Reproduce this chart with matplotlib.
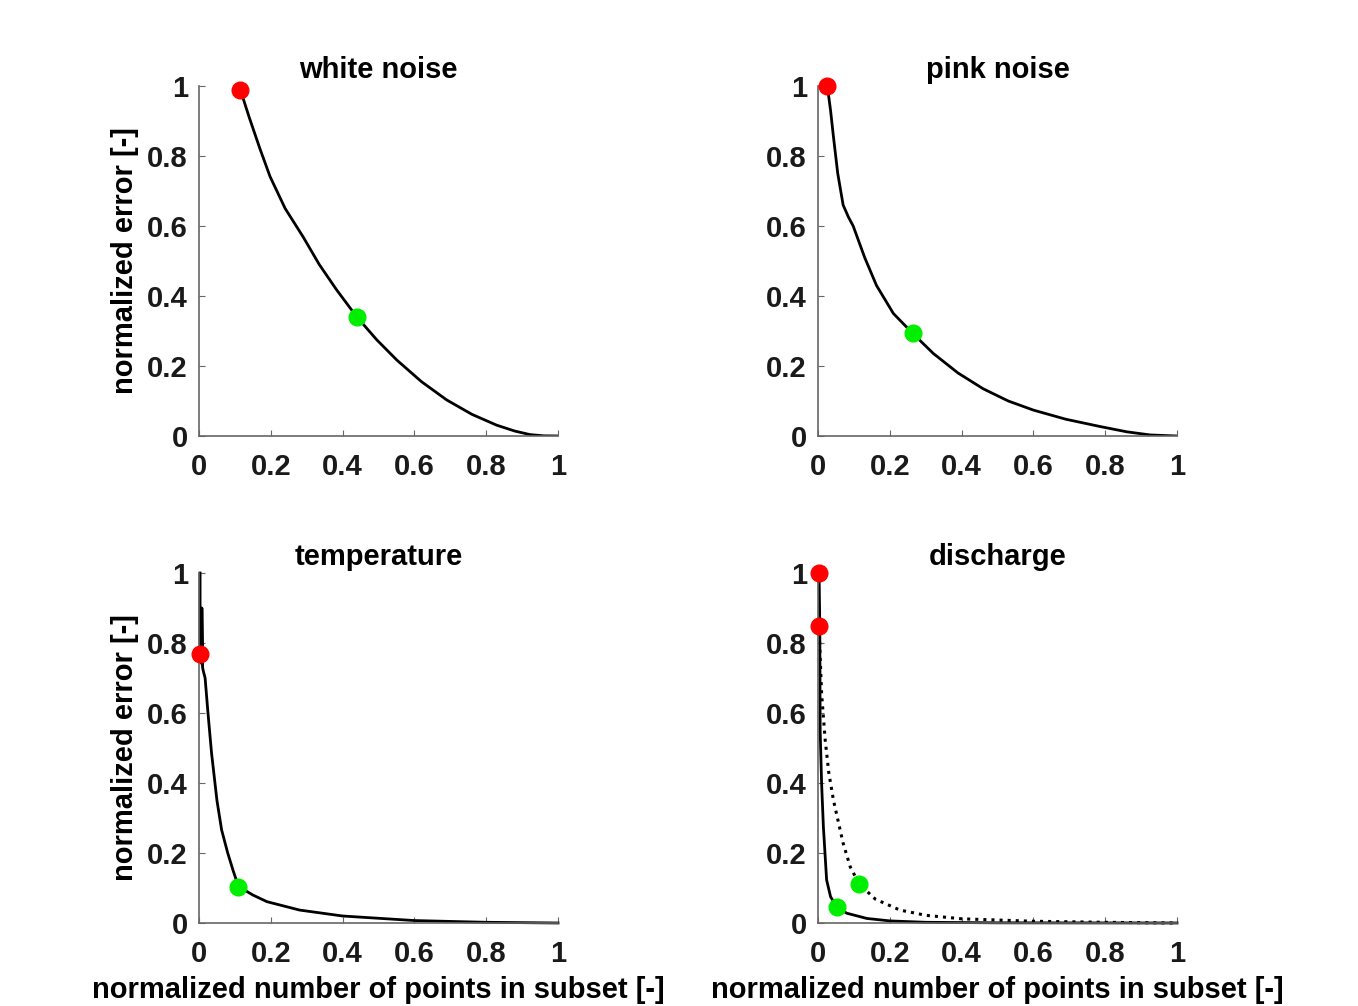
import numpy as np
import matplotlib.pyplot as plt

plt.rcParams['font.family'] = ['Liberation Sans', 'DejaVu Sans']
plt.rcParams['font.weight'] = 'bold'

# white noise
wn_x = [0.115, 0.14, 0.17, 0.198, 0.24, 0.29, 0.335, 0.383, 0.439, 0.495, 0.551, 0.62, 0.69, 0.76, 0.829, 0.88, 0.922, 0.96, 1.0]
wn_y = [0.99, 0.91, 0.82, 0.741, 0.65, 0.569, 0.49, 0.418, 0.341, 0.275, 0.217, 0.155, 0.103, 0.062, 0.031, 0.014, 0.004, 0.0005, 0.0]
wn_red = (0.115, 0.99)
wn_green = (0.439, 0.341)

# pink noise
pn_x = [0.026, 0.035, 0.043, 0.055, 0.07, 0.085, 0.098, 0.13, 0.163, 0.21, 0.264, 0.321, 0.39, 0.46, 0.53, 0.60, 0.69, 0.786, 0.86, 0.925, 1.0]
pn_y = [1.0, 0.93, 0.855, 0.75, 0.66, 0.625, 0.600, 0.51, 0.43, 0.35, 0.293, 0.236, 0.18, 0.135, 0.1, 0.074, 0.048, 0.027, 0.012, 0.003, 0.0]
pn_red = (0.026, 1.0)
pn_green = (0.264, 0.293)

# temperature
tp_x = [0.003, 0.003, 0.006, 0.008, 0.008, 0.010, 0.012, 0.017, 0.025, 0.035, 0.05, 0.063, 0.08, 0.095, 0.11, 0.15, 0.189, 0.28, 0.4, 0.6, 0.8, 1.0]
tp_y = [1.0, 0.78, 0.76, 0.74, 0.90, 0.73, 0.72, 0.70, 0.60, 0.485, 0.35, 0.266, 0.20, 0.15, 0.104, 0.08, 0.061, 0.037, 0.02, 0.007, 0.002, 0.0]
tp_red = (0.003, 0.77)
tp_green = (0.11, 0.104)

# discharge, solid
ds_x = [0.003, 0.005, 0.006, 0.010, 0.015, 0.024, 0.035, 0.052, 0.08, 0.136, 0.2, 0.3, 0.5, 1.0]
ds_y = [1.0, 0.85, 0.55, 0.40, 0.275, 0.123, 0.075, 0.047, 0.028, 0.013, 0.006, 0.002, 0.0005, 0.0]
ds_red = (0.003, 1.0)
ds_green = (0.052, 0.047)

# discharge, dotted
dd_x = [0.003, 0.006, 0.010, 0.020, 0.030, 0.043, 0.07, 0.09, 0.115, 0.16, 0.228, 0.3, 0.4, 0.6, 0.8, 1.0]
dd_y = [0.85, 0.76, 0.656, 0.523, 0.43, 0.351, 0.228, 0.16, 0.111, 0.068, 0.037, 0.022, 0.012, 0.005, 0.002, 0.0]
dd_red = (0.003, 0.85)
dd_green = (0.115, 0.111)

fs = 21

fig = plt.figure(figsize=(13.58, 10.06), dpi=100)

w = 359 / 1358
h = 350 / 1006
lefts = [199 / 1358, 818 / 1358]
bottoms = [1 - 436 / 1006, 1 - 923 / 1006]

def style(ax, title):
    ax.set_xlim(0, 1)
    ax.set_ylim(0, 1)
    ax.set_xticks([0, 0.2, 0.4, 0.6, 0.8, 1])
    ax.set_yticks([0, 0.2, 0.4, 0.6, 0.8, 1])
    ax.set_xticklabels(['0', '0.2', '0.4', '0.6', '0.8', '1'])
    ax.set_yticklabels(['0', '0.2', '0.4', '0.6', '0.8', '1'])
    for s in ['top', 'right']:
        ax.spines[s].set_visible(False)
    for s in ['left', 'bottom']:
        ax.spines[s].set_color('#666666')
        ax.spines[s].set_linewidth(1.2)
    ax.tick_params(direction='in', length=4, color='#666666', labelsize=fs)
    ax.tick_params(axis='x', pad=12)
    ax.tick_params(axis='y', pad=8)
    for lab in ax.get_xticklabels() + ax.get_yticklabels():
        lab.set_fontweight('bold')
        lab.set_color('#1a1a1a')
    ax.set_title(title, fontsize=fs, fontweight='bold', pad=6)

def dots(ax, red, green):
    ax.plot(red[0], red[1], 'o', color='#ff0000', markersize=12, clip_on=False, zorder=5)
    ax.plot(green[0], green[1], 'o', color='#00ee00', markersize=12, clip_on=False, zorder=5)

ax1 = fig.add_axes([lefts[0], bottoms[0], w, h])
ax1.plot(wn_x, wn_y, 'k', lw=2)
dots(ax1, wn_red, wn_green)
style(ax1, 'white noise')
ax1.set_ylabel('normalized error [-]', fontsize=fs, fontweight='bold', labelpad=6)

ax2 = fig.add_axes([lefts[1], bottoms[0], w, h])
ax2.plot(pn_x, pn_y, 'k', lw=2)
dots(ax2, pn_red, pn_green)
style(ax2, 'pink noise')

ax3 = fig.add_axes([lefts[0], bottoms[1], w, h])
ax3.plot(tp_x, tp_y, 'k', lw=2, clip_on=False)
dots(ax3, tp_red, tp_green)
style(ax3, 'temperature')
ax3.set_ylabel('normalized error [-]', fontsize=fs, fontweight='bold', labelpad=6)
ax3.set_xlabel('normalized number of points in subset [-]', fontsize=fs, fontweight='bold', labelpad=6)

ax4 = fig.add_axes([lefts[1], bottoms[1], w, h])
ax4.plot(dd_x, dd_y, 'k:', lw=2.2, clip_on=False)
ax4.plot(ds_x, ds_y, 'k', lw=2, clip_on=False)
dots(ax4, ds_red, ds_green)
dots(ax4, dd_red, dd_green)
style(ax4, 'discharge')
ax4.set_xlabel('normalized number of points in subset [-]', fontsize=fs, fontweight='bold', labelpad=6)

fig.savefig('out.png', dpi=100)
